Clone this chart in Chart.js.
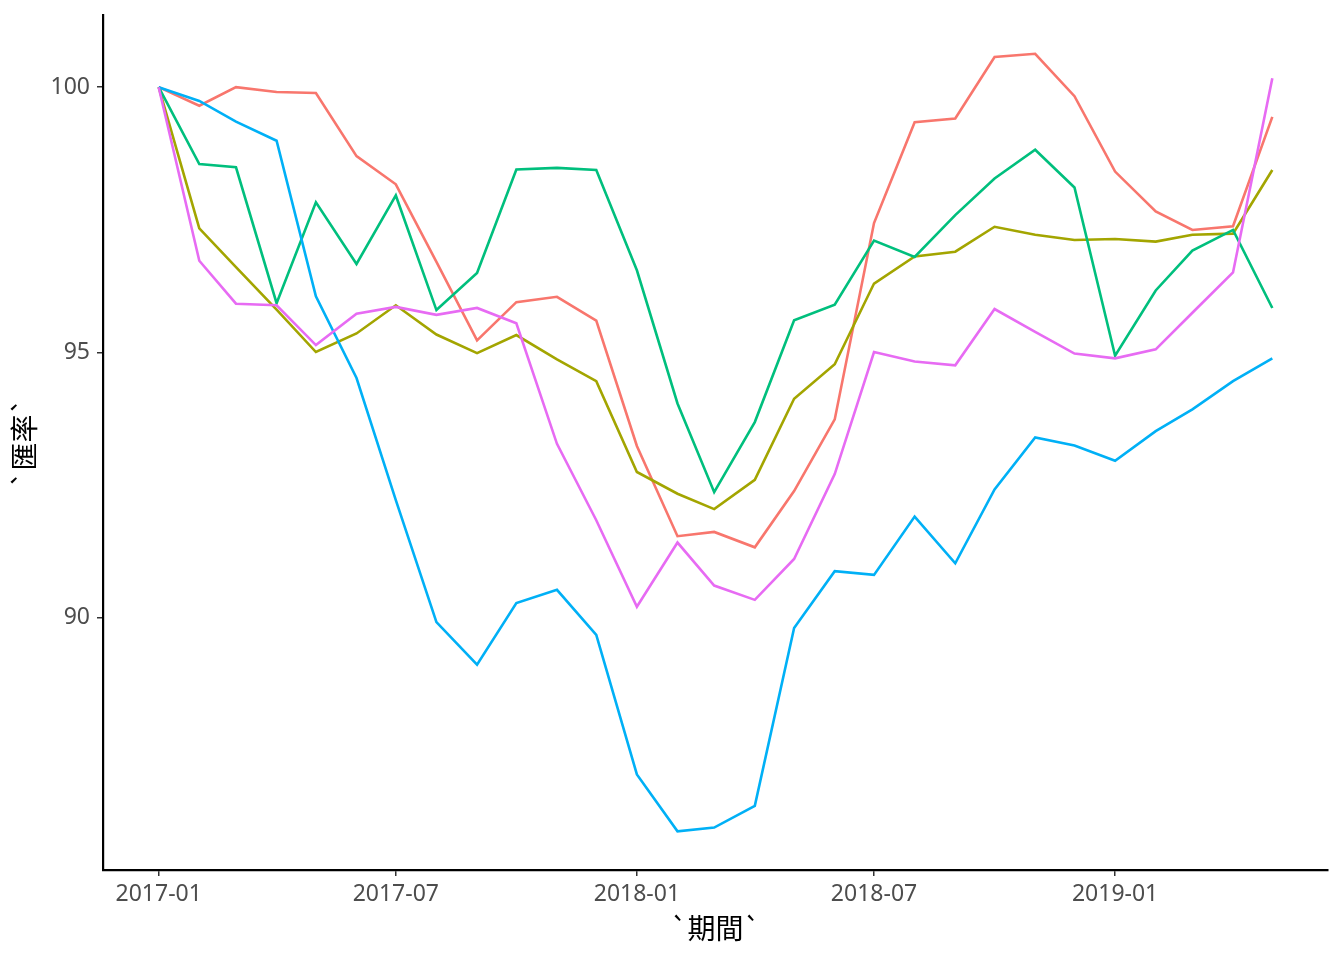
<!DOCTYPE html>
<html>
<head>
<meta charset="utf-8">
<script src="https://cdn.jsdelivr.net/npm/chart.js@4"></script>
<style>
  html, body { margin: 0; padding: 0; background: #fff; overflow: hidden; }
</style>
</head>
<body>
<canvas id="myChart" width="1344" height="960"></canvas>
<script>
const months = ['2017-01','2017-02','2017-03','2017-04','2017-05','2017-06','2017-07','2017-08','2017-09','2017-10','2017-11','2017-12',
  '2018-01','2018-02','2018-03','2018-04','2018-05','2018-06','2018-07','2018-08','2018-09','2018-10','2018-11','2018-12',
  '2019-01','2019-02','2019-03','2019-04','2019-05'];

const red = [100, 99.65, 100.0, 99.91, 99.89, 98.70, 98.17, 96.71, 95.23, 95.95, 96.05, 95.60, 93.24, 91.54, 91.62, 91.33, 92.39, 93.74, 97.44, 99.34, 99.41, 100.57, 100.63, 99.83, 98.41, 97.66, 97.31, 97.38, 99.44];
const olive = [100, 97.34, 96.61, 95.81, 95.01, 95.36, 95.89, 95.34, 94.99, 95.33, 94.87, 94.46, 92.75, 92.34, 92.05, 92.60, 94.13, 94.78, 96.30, 96.81, 96.90, 97.37, 97.22, 97.12, 97.14, 97.09, 97.22, 97.24, 98.44];
const green = [100, 98.55, 98.49, 95.93, 97.83, 96.67, 97.96, 95.80, 96.50, 98.45, 98.48, 98.44, 96.55, 94.04, 92.37, 93.69, 95.61, 95.90, 97.11, 96.80, 97.59, 98.28, 98.82, 98.11, 94.94, 96.17, 96.92, 97.31, 95.84];
const blue = [100, 99.74, 99.35, 98.99, 96.06, 94.52, 92.22, 89.92, 89.12, 90.28, 90.53, 89.68, 87.05, 85.98, 86.05, 86.46, 89.81, 90.88, 90.81, 91.91, 91.03, 92.42, 93.40, 93.25, 92.96, 93.52, 93.93, 94.46, 94.89];
const magenta = [100, 96.73, 95.92, 95.89, 95.14, 95.73, 95.86, 95.71, 95.84, 95.55, 93.28, 91.84, 90.21, 91.42, 90.61, 90.34, 91.11, 92.71, 95.01, 94.83, 94.76, 95.82, 95.39, 94.98, 94.89, 95.06, 95.75, 96.51, 100.17];

const xTickLabels = ['2017-01', '2017-07', '2018-01', '2018-07', '2019-01'];
const yTicks = [90, 95, 100];

// month string -> days since 2017-01-01 (date axis like ggplot)
const toDay = m => {
  const [y, mo] = m.split('-').map(Number);
  return (Date.UTC(y, mo - 1, 1) - Date.UTC(2017, 0, 1)) / 86400000;
};
const xTickValues = xTickLabels.map(toDay);

const series = [
  { label: 'red', values: red, color: '#F8766D' },
  { label: 'olive', values: olive, color: '#A3A500' },
  { label: 'green', values: green, color: '#00BF7D' },
  { label: 'blue', values: blue, color: '#00B0F6' },
  { label: 'magenta', values: magenta, color: '#E76BF3' },
];

const firstDay = toDay(months[0]);
const lastDay = toDay(months[months.length - 1]);
const padX = (lastDay - firstDay) * 0.05;

const ctx = document.getElementById('myChart').getContext('2d');
const data = {
  datasets: series.map((s, i) => ({
    label: s.label,
    data: s.values.map((v, j) => ({ x: toDay(months[j]), y: v })),
    borderColor: s.color,
    backgroundColor: s.color,
    borderWidth: 2.6,
    pointRadius: 0,
    tension: 0,
    order: series.length - 1 - i,
  })),
};

const tickFont = { family: "'Noto Sans', sans-serif", size: 23 };
const titleFont = { family: "'Noto Sans CJK TC', 'Noto Sans', sans-serif", size: 28 };

const config = {
  type: 'line',
  data: data,
  options: {
    responsive: false,
    animation: false,
    layout: { padding: { top: 15, right: 16, left: 0, bottom: 0 } },
    plugins: {
      legend: { display: false },
      tooltip: { enabled: false },
    },
    scales: {
      x: {
        type: 'linear',
        min: firstDay - padX,
        max: lastDay + padX,
        afterBuildTicks: scale => { scale.ticks = xTickValues.map(v => ({ value: v })); },
        afterFit: scale => { scale.height = 90; scale.paddingLeft = 0; scale.paddingRight = 0; },
        ticks: {
          color: '#4D4D4D',
          font: tickFont,
          padding: 5,
          maxRotation: 0,
          autoSkip: false,
          callback: v => xTickLabels[xTickValues.indexOf(v)],
        },
        grid: { drawOnChartArea: false, drawTicks: true, tickLength: 6, color: '#333333', lineWidth: 1.5 },
        border: { display: true, color: '#000000', width: 2.2 },
        title: { display: true, text: '`期間`', color: '#000000', font: titleFont, padding: { top: 0, bottom: 15 } },
      },
      y: {
        type: 'linear',
        min: 85.25,
        max: 101.36,
        afterBuildTicks: scale => { scale.ticks = yTicks.map(v => ({ value: v })); },
        afterFit: scale => { scale.width = 103; scale.paddingTop = 0; scale.paddingBottom = 0; },
        ticks: { color: '#4D4D4D', font: tickFont, padding: 7, callback: v => String(v) },
        grid: { drawOnChartArea: false, drawTicks: true, tickLength: 6, color: '#333333', lineWidth: 1.5 },
        border: { display: true, color: '#000000', width: 2.2 },
        title: { display: true, text: '`匯率`', color: '#000000', font: titleFont, padding: { top: 8, bottom: 0 } },
      },
    },
  },
};
Chart.defaults.color = '#000';
const rateChart = new Chart(ctx, config);
</script>
</body>
</html>
